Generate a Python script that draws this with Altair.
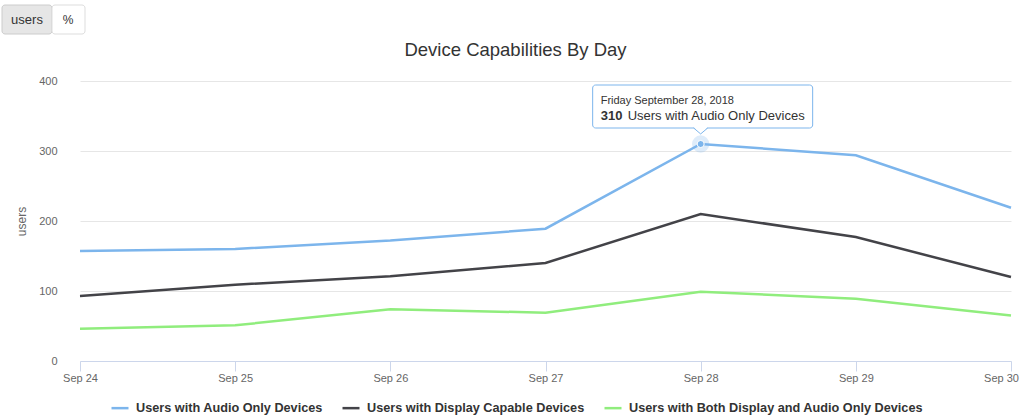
import altair as alt
import pandas as pd

# ---- data ----
dates = ["2018-09-24T00:00:00", "2018-09-25T00:00:00", "2018-09-26T00:00:00",
         "2018-09-27T00:00:00", "2018-09-28T00:00:00", "2018-09-29T00:00:00",
         "2018-09-30T00:00:00"]
audio_only = [157, 160, 172, 189, 310, 294, 219]
display_capable = [93, 109, 121, 140, 210, 177, 120]
both_display_audio = [46, 51, 74, 69, 99, 89, 65]
series_names = ["Users with Audio Only Devices",
                "Users with Display Capable Devices",
                "Users with Both Display and Audio Only Devices"]
series_colors = ["#7cb5ec", "#434348", "#90ed7d"]
y_ticks = [0, 100, 200, 300, 400]

tip_date = ["2018-09-28T00:00:00"]
tip_value = [310]
tip_line1 = ["Friday September 28, 2018"]
tip_bold = ["310"]
tip_rest = ["Users with Audio Only Devices"]

button_labels = ["users", "%"]

FONT = "Liberation Sans"

rows = []
for name, vals in zip(series_names, [audio_only, display_capable, both_display_audio]):
    for d, v in zip(dates, vals):
        rows.append({"date": d, "value": v, "series": name})
df = pd.DataFrame(rows)
tip = pd.DataFrame({"date": tip_date, "value": tip_value, "line1": tip_line1,
                    "bold": tip_bold, "rest": tip_rest})

x_axis = alt.Axis(
    title=None, format="%b %d", tickCount={"interval": "day", "step": 1},
    labelFont=FONT, labelFontSize=11, labelColor="#666666",
    labelPadding=1, tickSize=10, tickColor="#ccd6eb", domainColor="#ccd6eb",
    grid=False, labelFlush=False,
    labelOffset={"condition": {"test": "datum.index === 1", "value": -10}, "value": 0},
)
y_axis = alt.Axis(
    title="users", values=y_ticks, labelFont=FONT, labelFontSize=11,
    labelColor="#666666", labelPadding=23, tickSize=0, ticks=False, domain=False,
    gridColor="#e6e6e6", titleFont=FONT, titleFontSize=12,
    titleFontWeight="normal", titleColor="#666666", titleX=-52, titleY=140,
)
x_scale = alt.Scale(domain=[dates[0], dates[-1]])
y_scale = alt.Scale(domain=[0, 400], nice=False)

x_enc = alt.X("date:T", scale=x_scale, axis=x_axis)
y_enc = alt.Y("value:Q", scale=y_scale, axis=y_axis)

lines = alt.Chart(df).mark_line(strokeWidth=2.5).encode(
    x=x_enc,
    y=y_enc,
    color=alt.Color(
        "series:N",
        scale=alt.Scale(domain=series_names, range=series_colors),
        legend=alt.Legend(
            title=None, orient="none", legendX=30, legendY=317,
            direction="horizontal", columns=3, symbolType="stroke",
            symbolStrokeWidth=2.5, symbolSize=289, labelFont=FONT,
            labelFontSize=12.7, labelFontWeight="bold", labelColor="#333333",
            labelOffset=6, columnPadding=14, labelLimit=400,
        ),
    ),
    order=alt.Order("date:T"),
)

base_tip = alt.Chart(tip).encode(x=x_enc, y=y_enc)

halo = base_tip.mark_circle(size=300, color="#7cb5ec", opacity=0.25)
dot = base_tip.mark_point(size=50, filled=True, fill="#7cb5ec", stroke="#ffffff",
                          strokeWidth=1, opacity=1)

box = base_tip.mark_rect(
    fill="#ffffff", fillOpacity=0.92, stroke="#7cb5ec", strokeWidth=1,
    cornerRadius=3, xOffset=-108, x2Offset=112, yOffset=-59, y2Offset=-16,
).encode(x2="date:T", y2="value:Q")

notch_fill = base_tip.mark_point(
    shape="M-1,-0.15L0,0.85L1,-0.15Z", size=196, filled=True, fill="#ffffff",
    strokeWidth=0, opacity=1, yOffset=-16,
)
notch_line = base_tip.mark_point(
    shape="M-1,0L0,0.85L1,0", size=196, filled=False, stroke="#7cb5ec",
    strokeWidth=1, opacity=1, yOffset=-16,
)

t1 = base_tip.mark_text(align="left", baseline="alphabetic", font=FONT, fontSize=11,
                        color="#333333", xOffset=-100, yOffset=-40).encode(text="line1:N")
t2 = base_tip.mark_text(align="left", baseline="alphabetic", font=FONT, fontSize=13,
                        fontWeight="bold", color="#333333", xOffset=-100,
                        yOffset=-24).encode(text="bold:N")
t3 = base_tip.mark_text(align="left", baseline="alphabetic", font=FONT, fontSize=13,
                        color="#333333", xOffset=-73, yOffset=-24).encode(text="rest:N")

# ---- range-selector buttons (UI chrome above the plot) ----
btn = pd.DataFrame({"label": button_labels})
btn_users_bg = alt.Chart(btn.iloc[[0]]).mark_rect(
    fill="#e6e6e6", stroke="#cccccc", strokeWidth=1, cornerRadius=3
).encode(x=alt.value(-78), x2=alt.value(-28), y=alt.value(-76), y2=alt.value(-47))
btn_pct_bg = alt.Chart(btn.iloc[[1]]).mark_rect(
    fill="#ffffff", stroke="#dddddd", strokeWidth=1, cornerRadius=3
).encode(x=alt.value(-28), x2=alt.value(5), y=alt.value(-76), y2=alt.value(-47))
btn_users_txt = alt.Chart(btn.iloc[[0]]).mark_text(
    font=FONT, fontSize=13, color="#333333", align="center", baseline="middle"
).encode(text="label:N", x=alt.value(-53), y=alt.value(-61))
btn_pct_txt = alt.Chart(btn.iloc[[1]]).mark_text(
    font=FONT, fontSize=12, color="#333333", align="center", baseline="middle"
).encode(text="label:N", x=alt.value(-12), y=alt.value(-61))

chart = alt.layer(
    lines, halo, dot, box, notch_fill, notch_line, t1, t2, t3,
    btn_users_bg, btn_pct_bg, btn_users_txt, btn_pct_txt,
).properties(
    width=931, height=280,
    title=alt.TitleParams(
        "Device Capabilities By Day", font=FONT, fontSize=18.5,
        fontWeight="normal", color="#333333", anchor="middle", frame="group",
        dx=-30, offset=-55,
    ),
    autosize=alt.AutoSizeParams(type="none"),
    padding={"left": 80, "top": 81, "right": 13, "bottom": 58},
).configure(background="#ffffff").configure_view(stroke=None).configure_axisX(
    grid=False
).configure_axisY(domain=False, ticks=False)

chart.save("out.html", embed_options={"renderer": "svg", "actions": False})
